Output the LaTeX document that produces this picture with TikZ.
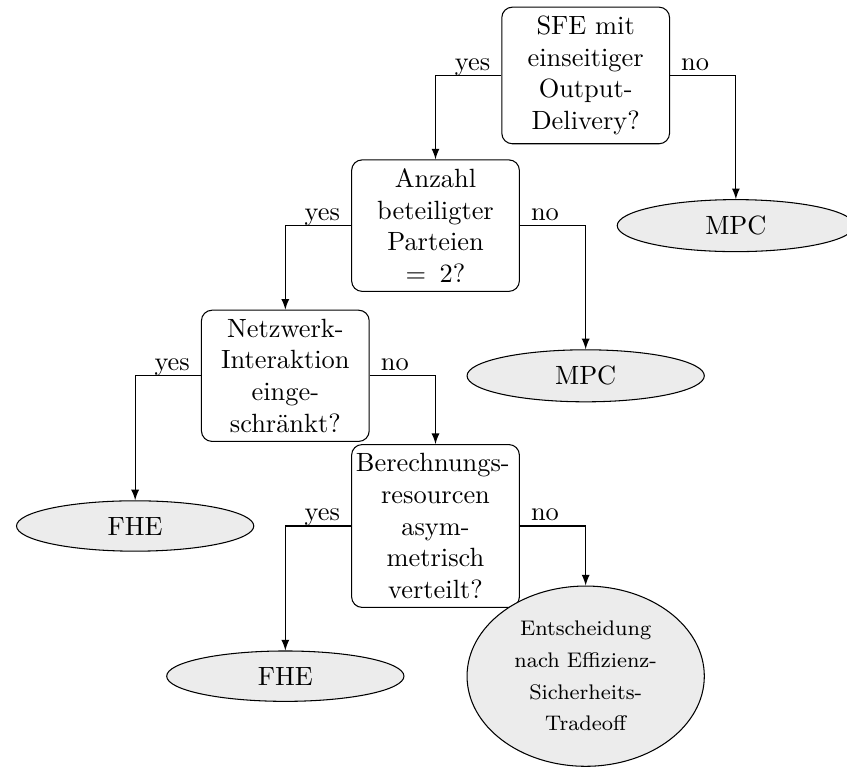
\documentclass[tikz,border=0pt]{standalone}
\usepackage{amsmath}
\usepackage{tikz}
\usetikzlibrary{shapes.geometric}

\begin{document}
\begin{tikzpicture}[
        question/.style={draw, rectangle, rounded corners, text width=2cm, align=center},
        result/.style={draw, ellipse, fill=gray!15, text width=2cm, align=center},
        yeslabel/.style={anchor=base east, inner sep=0pt, xshift=-4pt, yshift=2pt},
        nolabel/.style={anchor=base west, inner sep=0pt, xshift=4pt, yshift=2pt},
        >=latex
    ]
        \useasboundingbox (-7.8,1.005) rectangle (3.48,-9.22);
        % questions
        \node[question] (q1) at (0,0) {SFE mit\\ einseitiger\\ Output-\\ Delivery?};
        \node[question] (q2) at (-2,-2) {Anzahl\\ beteiligter\\ Parteien\\ $= 2$?};
        \node[question] (q3) at (-4,-4) {Netzwerk-\\ Interaktion\\ einge-\\ schränkt?};
        \node[question] (q4) at (-2,-6) {\hspace*{-2pt}\mbox{Berechnungs-}\hspace*{-2pt}\\ resourcen\\ asym-\\ metrisch\\ verteilt?};
        % results
        \node[result] (mpca) at (2,-2) {MPC};
        \node[result] (mpcb) at (0,-4) {MPC};
        \node[result] (fhea) at (-6,-6) {FHE};
        \node[result] (fheb) at (-4,-8) {FHE};
        \node[result, font={\footnotesize\setlength{\baselineskip}{12pt}}] (tradeoff) at (0,-8)
            {Entscheidung\\ nach Effizienz-\\ Sicherheits-\\ Tradeoff};
        % branches
        \draw[->] (q1.west) -| node[yeslabel, pos=0] {yes} (q2.north);
        \draw[->] (q1.east) -| node[nolabel, pos=0] {no} (mpca.north);
        \draw[->] (q2.west) -| node[yeslabel, pos=0] {yes} (q3.north);
        \draw[->] (q2.east) -| node[nolabel, pos=0] {no} (mpcb.north);
        \draw[->] (q3.west) -| node[yeslabel, pos=0] {yes} (fhea.north);
        \draw[->] (q3.east) -| node[nolabel, pos=0] {no} (q4.north);
        \draw[->] (q4.west) -| node[yeslabel, pos=0] {yes} (fheb.north);
        \draw[->] (q4.east) -| node[nolabel, pos=0] {no} (tradeoff.north);
    \end{tikzpicture}
\end{document}
